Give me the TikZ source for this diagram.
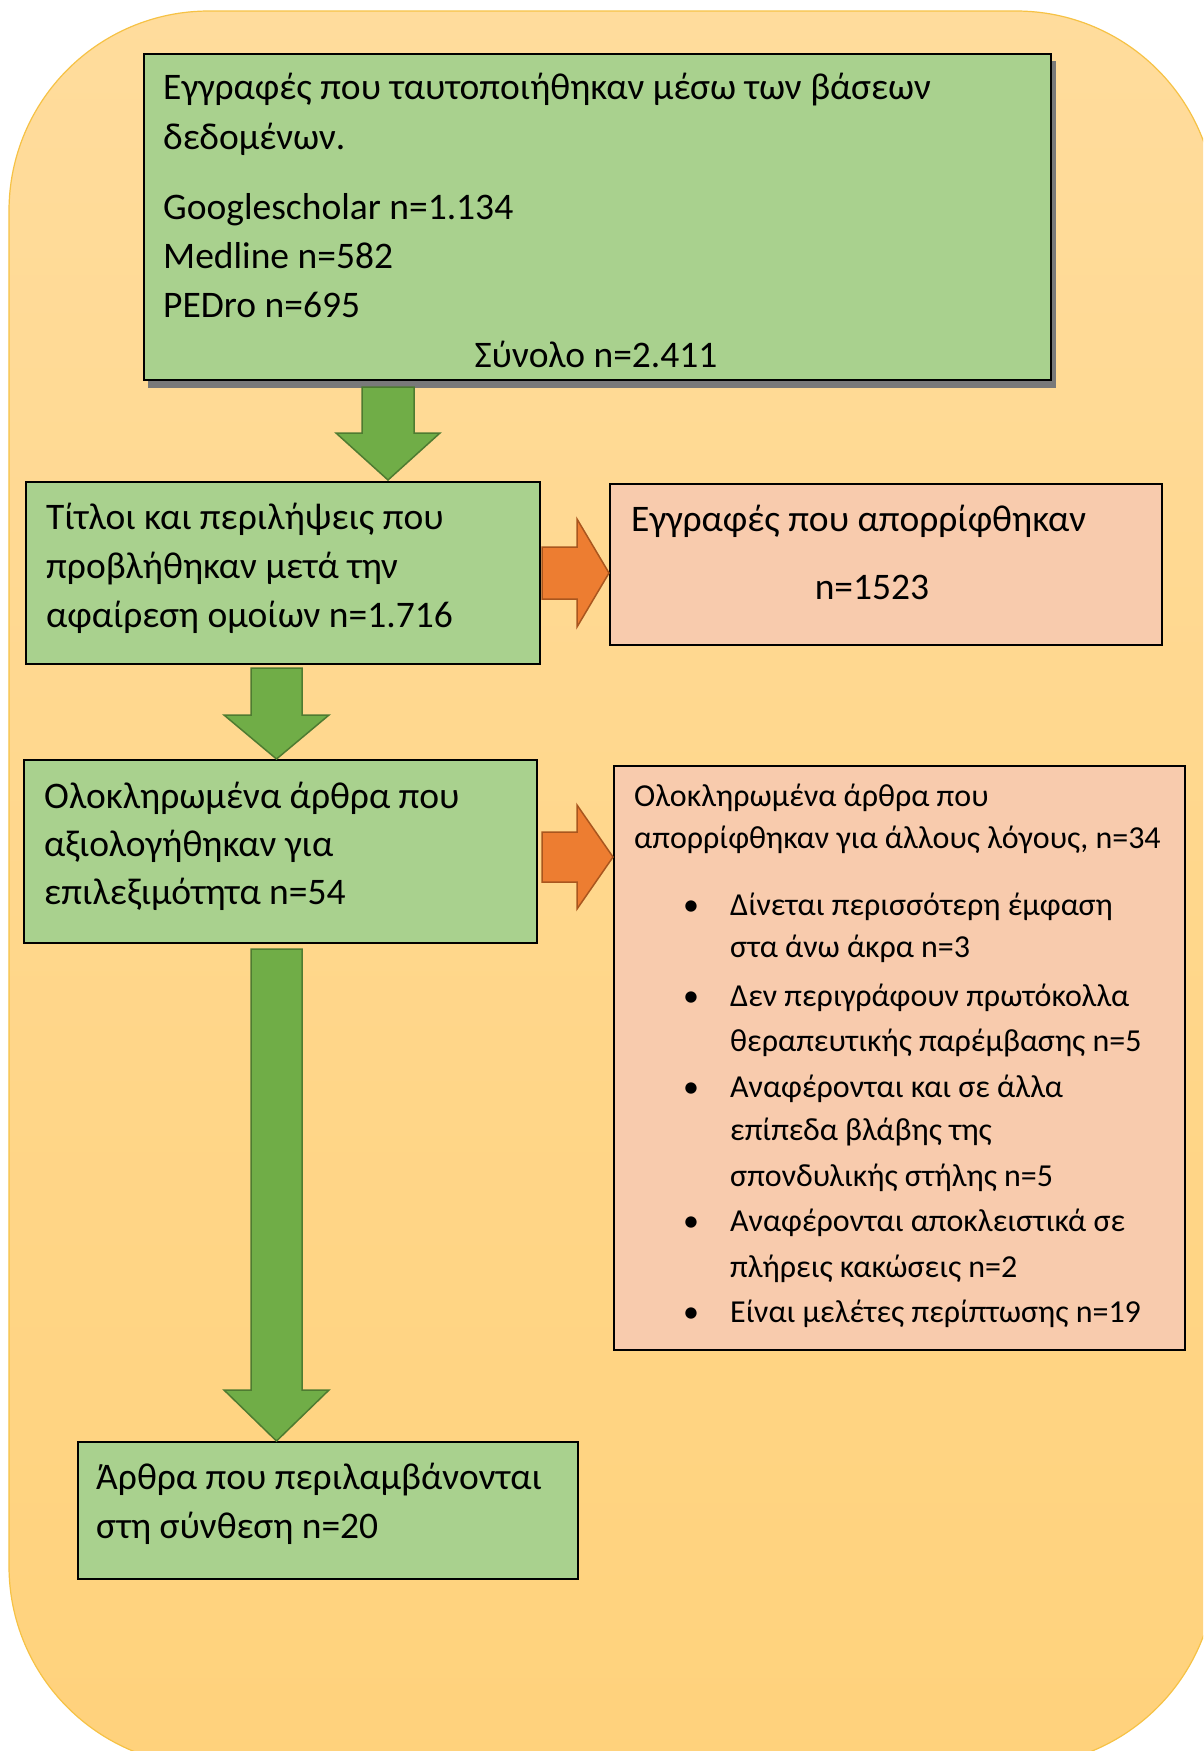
\documentclass[tikz,border=0pt]{standalone}
\usepackage{fontspec}
\setmainfont{Carlito}
\definecolor{bgtop}{HTML}{FFDC9C}
\definecolor{bgbot}{HTML}{FFD27C}
\definecolor{bgline}{HTML}{F6C245}
\definecolor{boxgreen}{HTML}{A9D18E}
\definecolor{boxsalmon}{HTML}{F8CBAD}
\definecolor{argreen}{HTML}{70AD47}
\definecolor{argreenline}{HTML}{4E7B31}
\definecolor{arorange}{HTML}{ED7D31}
\definecolor{arorangeline}{HTML}{A9561E}
\newcommand\blockdown[6]{\draw[garrow] (#1-#5,#2) -- (#1+#5,#2) -- (#1+#5,#3) -- (#1+#6,#3) -- (#1,#4) -- (#1-#6,#3) -- (#1-#5,#3) -- cycle;}
\newcommand\blockright[6]{\draw[oarrow] (#2,#1-#5) -- (#3,#1-#5) -- (#3,#1-#6) -- (#4,#1) -- (#3,#1+#6) -- (#3,#1+#5) -- (#2,#1+#5) -- cycle;}
\begin{document}
\begin{tikzpicture}[x=1pt,y=-1pt,
  gbox/.style={draw=black, line width=1.6pt, fill=boxgreen, rectangle, inner sep=0pt, anchor=north west},
  obox/.style={draw=black, line width=1.6pt, fill=boxsalmon, rectangle, inner sep=0pt, anchor=north west},
  big/.style={font=\fontsize{37.5}{45}\selectfont, inner sep=0pt, anchor=mid west, yshift=-9pt},
  small/.style={font=\fontsize{32}{40}\selectfont, inner sep=0pt, anchor=mid west, yshift=-7pt},
  bul/.style={font=\fontsize{32}{40}\selectfont, inner sep=0pt, anchor=mid, yshift=-7pt},
  garrow/.style={fill=argreen, draw=argreenline, line width=1.5pt, line join=miter},
  oarrow/.style={fill=arorange, draw=arorangeline, line width=1.5pt, line join=miter}]
\useasboundingbox (0,0) rectangle (1203,1751);
\begin{scope}
\clip (0,0) rectangle (1203,1751);
\shadedraw[top color=bgtop, bottom color=bgbot, draw=bgline, line width=1.2pt, rounded corners=200pt] (9,11) rectangle (1216,1766);
\end{scope}

% shadow of top box
\fill[gray!95!black] (148,61) rectangle (1056,388);
% boxes
\node[gbox, minimum width=907pt, minimum height=326pt] (b1) at (143,53) {};
\node[gbox, minimum width=514pt, minimum height=182pt] (b2) at (25,481) {};
\node[obox, minimum width=552pt, minimum height=161pt] (b3) at (609,483) {};
\node[gbox, minimum width=513pt, minimum height=183pt] (b4) at (23,759) {};
\node[obox, minimum width=571pt, minimum height=584pt] (b5) at (613,765) {};
\node[gbox, minimum width=500pt, minimum height=137pt] (b6) at (77,1441) {};

% arrows
\blockdown{388}{387}{433}{480}{26}{52}
\blockdown{276.5}{668}{715}{759}{25.5}{52.5}
\blockdown{276.5}{949}{1390}{1441}{25.5}{52.5}
\blockright{573}{542}{577}{609}{26}{54}
\blockright{857}{542}{577}{613}{25}{52}

% box 1 text
\node[big] (t11) at (163,88) {Εγγραφές που ταυτοποιήθηκαν μέσω των βάσεων};
\node[big] (t12) at (163,138) {δεδομένων.};
\node[big] (t13) at (163,208) {Googlescholar n=1.134};
\node[big] (t14) at (163,257) {Medline n=582};
\node[big] (t15) at (163,306) {PEDro n=695};
\node[big, anchor=mid] (t16) at (596,356) {Σύνολο n=2.411};

% box 2 text
\node[big] (t21) at (46,518) {Τίτλοι και περιλήψεις που};
\node[big] (t22) at (46,567) {προβλήθηκαν μετά την};
\node[big] (t23) at (46,616) {αφαίρεση ομοίων n=1.716};

% box 3 text
\node[big] (t31) at (631,520) {Εγγραφές που απορρίφθηκαν};
\node[big, anchor=mid] (t32) at (872,588) {n=1523};

% box 4 text
\node[big] (t41) at (44,797) {Ολοκληρωμένα άρθρα που};
\node[big] (t42) at (44,845) {αξιολογήθηκαν για};
\node[big] (t43) at (44,893) {επιλεξιμότητα n=54};

% box 5 text
\node[small] (t51) at (634,797) {Ολοκληρωμένα άρθρα που};
\node[small] (t52) at (634,839) {απορρίφθηκαν για άλλους λόγους, n=34};
\node[bul] (u1) at (691,906) {•};
\node[small] (s1a) at (730,906) {Δίνεται περισσότερη έμφαση};
\node[small] (s1b) at (730,948) {στα άνω άκρα n=3};
\node[bul] (u2) at (691,997) {•};
\node[small] (s2a) at (730,997) {Δεν περιγράφουν πρωτόκολλα};
\node[small] (s2b) at (730,1042) {θεραπευτικής παρέμβασης n=5};
\node[bul] (u3) at (691,1088) {•};
\node[small] (s3a) at (730,1088) {Αναφέρονται και σε άλλα};
\node[small] (s3b) at (730,1131) {επίπεδα βλάβης της};
\node[small] (s3c) at (730,1177) {σπονδυλικής στήλης n=5};
\node[bul] (u4) at (691,1222) {•};
\node[small] (s4a) at (730,1222) {Αναφέρονται αποκλειστικά σε};
\node[small] (s4b) at (730,1268) {πλήρεις κακώσεις n=2};
\node[bul] (u5) at (691,1313) {•};
\node[small] (s5a) at (730,1313) {Είναι μελέτες περίπτωσης n=19};

% box 6 text
\node[big] (t61) at (96,1478) {Άρθρα που περιλαμβάνονται};
\node[big] (t62) at (96,1527) {στη σύνθεση n=20};
\end{tikzpicture}
\end{document}
